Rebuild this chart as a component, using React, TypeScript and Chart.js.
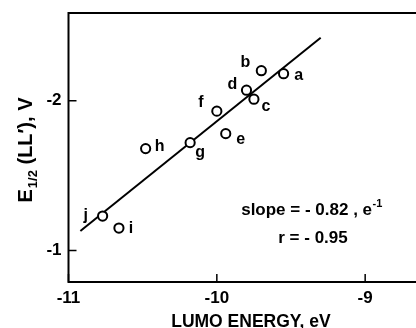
import React, { useEffect, useRef } from "react";
import { Chart, registerables } from "chart.js";

Chart.register(...registerables);

// ---- data ----
const pointLabels = ["a", "b", "c", "d", "e", "f", "g", "h", "i", "j"];
const lumoEnergy = [-9.55, -9.7, -9.75, -9.8, -9.94, -10.0, -10.18, -10.48, -10.66, -10.77];
const halfWavePotential = [-2.18, -2.2, -2.01, -2.07, -1.78, -1.93, -1.72, -1.68, -1.15, -1.23];
const fitLineX = [-10.92, -9.3];
const fitLineY = [-1.13, -2.42];
const xTickValues = [-11, -10, -9];
const yTickValues = [-2, -1];
const xTitle = "LUMO ENERGY, eV";
const yTitleMain = "E";
const yTitleSub = "1/2";
const yTitleRest = " (LL′), V";
const slopeText = "slope = - 0.82 , e";
const slopeSup = "-1";
const corrText = "r = - 0.95";

// label placement (px offsets from each marker)
const LABEL_OFFSETS: [number, number][] = [
  [15, 2], [-16, -8], [12, 7], [-14, -6], [15, 6],
  [-16, -9], [10, 10], [14, -2], [12, 1], [-17, 0],
];

const FONT = '"Liberation Sans", Arial, Helvetica, sans-serif';

const decorPlugin = {
  id: "decor",
  afterDraw(chart: any) {
    const { ctx, chartArea: ca, scales } = chart;
    const xs = scales.x;
    const ys = scales.y;
    ctx.save();
    ctx.strokeStyle = "#000";
    ctx.fillStyle = "#000";
    // frame
    ctx.lineWidth = 2;
    ctx.strokeRect(ca.left, ca.top, ca.right - ca.left, ca.bottom - ca.top);
    // inward tick marks
    ctx.lineWidth = 1.5;
    ctx.beginPath();
    for (const v of xTickValues) {
      const px = xs.getPixelForValue(v);
      ctx.moveTo(px, ca.bottom);
      ctx.lineTo(px, ca.bottom - 8);
    }
    for (const v of yTickValues) {
      const py = ys.getPixelForValue(v);
      ctx.moveTo(ca.left, py);
      ctx.lineTo(ca.left + 8, py);
    }
    ctx.stroke();

    // point labels
    const meta = chart.getDatasetMeta(0);
    ctx.font = `bold 16px ${FONT}`;
    ctx.textAlign = "center";
    ctx.textBaseline = "middle";
    meta.data.forEach((el: any, i: number) => {
      const [dx, dy] = LABEL_OFFSETS[i];
      ctx.fillText(pointLabels[i], el.x + dx, el.y + dy);
    });

    // annotation
    const mainFont = `bold 17px ${FONT}`;
    const supFont = `bold 11px ${FONT}`;
    ctx.textBaseline = "alphabetic";
    ctx.textAlign = "left";
    ctx.font = mainFont;
    const w1 = ctx.measureText(slopeText).width;
    ctx.font = supFont;
    const w2 = ctx.measureText(slopeSup).width;
    const cx = ca.left + 243;
    const sx = cx - (w1 + w2) / 2;
    ctx.font = mainFont;
    ctx.fillText(slopeText, sx, ca.top + 202);
    ctx.font = supFont;
    ctx.fillText(slopeSup, sx + w1 + 0.5, ca.top + 194);
    ctx.font = mainFont;
    ctx.textAlign = "center";
    ctx.fillText(corrText, cx + 1.5, ca.top + 230);

    // x title
    ctx.font = `bold 17.5px ${FONT}`;
    ctx.textAlign = "center";
    ctx.textBaseline = "alphabetic";
    ctx.fillText(xTitle, (ca.left + ca.right) / 2, 327);

    // y title (rotated)
    ctx.save();
    ctx.translate(32, (ca.top + ca.bottom) / 2 + 2.5);
    ctx.rotate(-Math.PI / 2);
    ctx.textAlign = "left";
    const tMain = `bold 20px ${FONT}`;
    const tSub = `bold 13px ${FONT}`;
    ctx.font = tMain;
    const a = ctx.measureText(yTitleMain).width;
    const c = ctx.measureText(yTitleRest).width;
    ctx.font = tSub;
    const b = ctx.measureText(yTitleSub).width;
    const tx = -(a + b + c + 1) / 2;
    ctx.font = tMain;
    ctx.fillText(yTitleMain, tx, 0);
    ctx.font = tSub;
    ctx.fillText(yTitleSub, tx + a + 1, 5);
    ctx.font = tMain;
    ctx.fillText(yTitleRest, tx + a + b + 1, 0);
    ctx.restore();

    ctx.restore();
  },
};

export default function App() {
  const ref = useRef<HTMLCanvasElement | null>(null);

  useEffect(() => {
    if (!ref.current) return;
    const chart = new Chart(ref.current, {
      type: "scatter",
      data: {
        datasets: [
          {
            type: "scatter",
            data: lumoEnergy.map((x, i) => ({ x, y: halfWavePotential[i] })),
            pointRadius: 4.6,
            pointBorderWidth: 2,
            pointBorderColor: "#000",
            pointBackgroundColor: "#fff",
          },
          {
            type: "line",
            data: fitLineX.map((x, i) => ({ x, y: fitLineY[i] })),
            borderColor: "#000",
            borderWidth: 2,
            pointRadius: 0,
            fill: false,
          },
        ],
      } as any,
      options: {
        responsive: false,
        animation: false,
        events: [],
        layout: { padding: { top: 13, right: 5, left: 0, bottom: 0 } },
        plugins: { legend: { display: false }, tooltip: { enabled: false } },
        scales: {
          x: {
            type: "linear",
            min: -11,
            max: -8.54,
            afterBuildTicks: (s: any) => {
              s.ticks = xTickValues.map((v) => ({ value: v }));
            },
            afterFit: (s: any) => {
              s.height = 46;
              s.paddingLeft = 0;
              s.paddingRight = 0;
            },
            grid: { display: false, drawTicks: false },
            border: { display: false },
            ticks: {
              color: "#000",
              padding: 6,
              font: { family: FONT, size: 17, weight: "bold" },
              callback: (v: any) => String(v),
            },
          },
          y: {
            type: "linear",
            reverse: true,
            min: -2.585,
            max: -0.79,
            afterBuildTicks: (s: any) => {
              s.ticks = yTickValues.map((v) => ({ value: v }));
            },
            afterFit: (s: any) => {
              s.width = 68.5;
              s.paddingTop = 0;
              s.paddingBottom = 0;
            },
            grid: { display: false, drawTicks: false },
            border: { display: false },
            ticks: {
              color: "#000",
              padding: 7,
              font: { family: FONT, size: 17, weight: "bold" },
              callback: (v: any) => String(v),
            },
          },
        },
      } as any,
      plugins: [decorPlugin],
    });
    return () => chart.destroy();
  }, []);

  return (
    <div style={{ position: "fixed", left: 0, top: 0, width: 440, height: 328, background: "#fff" }}>
      <canvas ref={ref} width={440} height={328} style={{ display: "block" }} />
    </div>
  );
}
